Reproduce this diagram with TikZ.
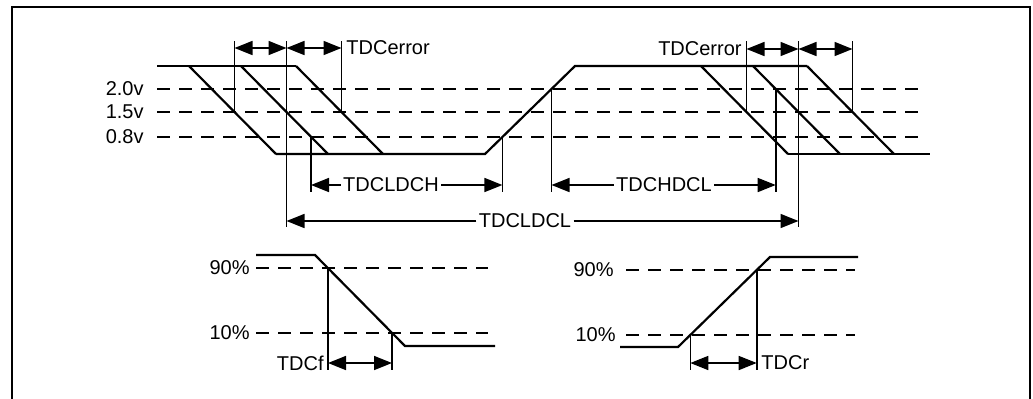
\documentclass[tikz,border=0pt]{standalone}
\usepackage{fontspec}
\setmainfont{Liberation Sans}
\usetikzlibrary{arrows.meta}

\tikzset{
  wave/.style={line width=1.1pt},
  level/.style={line width=0.9pt, dash pattern=on 6.5pt off 4.5pt},
  tick/.style={line width=0.8pt},
  dim/.style={line width=0.8pt, -{Triangle[length=9pt,width=7pt]}},
  twoway/.style={line width=0.8pt, {Triangle[length=9pt,width=7pt]}-{Triangle[length=9pt,width=7pt]}},
  lbl/.style={font=\fontsize{10}{11}\selectfont, inner sep=1pt},
}

\begin{document}
\begin{tikzpicture}[x=0.5pt, y=-0.5pt]
  \useasboundingbox (0,0) rectangle (1033,398);
  \draw[line width=0.8pt] (12,410) -- (12,7) -- (1030,7) -- (1030,410);

  % levels of the clock signal
  \draw[level] (157,89) -- (927,89);
  \draw[level] (157,112) -- (927,112);
  \draw[level] (157,137) -- (927,137);
  \node[lbl, anchor=east] (v20) at (146,89) {2.0v};
  \node[lbl, anchor=east] (v15) at (146,112) {1.5v};
  \node[lbl, anchor=east] (v08) at (146,137) {0.8v};

  % clock waveform
  \draw[wave] (157,66) -- (296,66);
  \draw[wave] (189,66) -- (276,154);
  \draw[wave] (241,66) -- (328,154);
  \draw[wave] (296,66) -- (383,154);
  \draw[wave] (276,154) -- (485,154) -- (575,66) -- (807,66);
  \draw[wave] (701,66) -- (788,154);
  \draw[wave] (753,66) -- (840,154);
  \draw[wave] (807,66) -- (894,154);
  \draw[wave] (788,154) -- (930,154);

  % TDCerror, left
  \draw[tick] (234.5,41) -- (234.5,112);
  \draw[tick] (286.5,41) -- (286.5,227);
  \draw[tick] (341.5,41) -- (341.5,112);
  \coordinate (la) at (234.5,48);
  \coordinate (lb) at (286.5,48);
  \coordinate (lc) at (341.5,48);
  \draw[twoway] (la) -- (lb);
  \draw[twoway] (lb) -- (lc);
  \node[lbl, anchor=west] (errL) at (344,48) {TDCerror};

  % TDCerror, right
  \draw[tick] (746.5,41) -- (746.5,112);
  \draw[tick] (798.5,41) -- (798.5,227);
  \draw[tick] (852.5,41) -- (852.5,112);
  \coordinate (ra) at (746.5,49);
  \coordinate (rb) at (798.5,49);
  \coordinate (rc) at (852.5,49);
  \draw[twoway] (ra) -- (rb);
  \draw[twoway] (rb) -- (rc);
  \node[lbl, anchor=east] (errR) at (744,49) {TDCerror};

  % low and high times
  \draw[tick] (311,137) -- (311,192);
  \draw[tick] (502.4,137) -- (502.4,192);
  \draw[tick] (551.5,89) -- (551.5,192);
  \draw[tick] (775.7,89) -- (775.7,192);
  \coordinate (lh1) at (311,185);
  \coordinate (lh2) at (502.4,185);
  \coordinate (hl1) at (551.5,185);
  \coordinate (hl2) at (775.7,185);
  \coordinate (ll1) at (286.5,221);
  \coordinate (ll2) at (798.5,221);
  \node[lbl, fill=white] (tLH) at (391,185) {TDCLDCH};
  \node[lbl, fill=white] (tHL) at (664,185) {TDCHDCL};
  \node[lbl, fill=white] (tLL) at (525,221) {TDCLDCL};
  \draw[dim] (tLH) -- (lh1);
  \draw[dim] (tLH) -- (lh2);
  \draw[dim] (tHL) -- (hl1);
  \draw[dim] (tHL) -- (hl2);
  \draw[dim] (tLL) -- (ll1);
  \draw[dim] (tLL) -- (ll2);

  % fall time
  \draw[level] (256,268) -- (488,268);
  \draw[level] (256,333) -- (488,333);
  \node[lbl, anchor=east] (f90) at (252,268) {90\%};
  \node[lbl, anchor=east] (f10) at (252,333) {10\%};
  \draw[wave] (256,255) -- (315,255) -- (405,346) -- (495,346);
  \draw[tick] (328,268) -- (328,370);
  \draw[tick] (392,333) -- (392,370);
  \coordinate (fa) at (328,363);
  \coordinate (fb) at (392,363);
  \draw[twoway] (fa) -- (fb);
  \node[lbl, anchor=east] (tf) at (326,363) {TDCf};

  % rise time
  \draw[level] (626,270) -- (855,270);
  \draw[level] (626,335) -- (855,335);
  \node[lbl, anchor=east] (r90) at (616,270) {90\%};
  \node[lbl, anchor=east] (r10) at (618,335) {10\%};
  \draw[wave] (620,347) -- (678,347) -- (770,257) -- (858,257);
  \draw[tick] (690.3,335) -- (690.3,370);
  \draw[tick] (756.7,270) -- (756.7,370);
  \coordinate (rr1) at (690.3,363);
  \coordinate (rr2) at (756.7,363);
  \draw[twoway] (rr1) -- (rr2);
  \node[lbl, anchor=west] (tr) at (759,363) {TDCr};
\end{tikzpicture}
\end{document}
